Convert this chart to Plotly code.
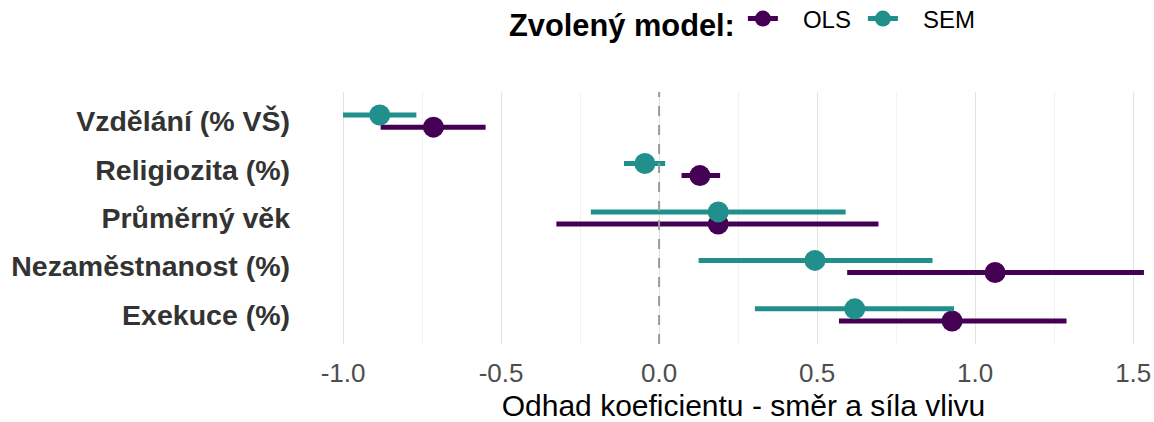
import plotly.graph_objects as go

# Data
categories = ["Exekuce (%)", "Nezaměstnanost (%)", "Průměrný věk", "Religiozita (%)", "Vzdělání (% VŠ)"]
ols_est = [0.927, 1.063, 0.187, 0.129, -0.714]
ols_lo = [0.569, 0.595, -0.325, 0.071, -0.881]
ols_hi = [1.289, 1.534, 0.694, 0.193, -0.549]
sem_est = [0.619, 0.493, 0.187, -0.045, -0.884]
sem_lo = [0.303, 0.125, -0.216, -0.111, -1.000]
sem_hi = [0.933, 0.865, 0.590, 0.019, -0.768]
x_tick_vals = [-1.0, -0.5, 0.0, 0.5, 1.0, 1.5]
x_tick_labels = ["-1.0", "-0.5", "0.0", "0.5", "1.0", "1.5"]
series_names = ["OLS", "SEM"]

OLS_COLOR = "#440154"
SEM_COLOR = "#21908C"
FONT = "Liberation Sans, Arial, sans-serif"
dodge = 0.125

# ggplot-like 5% expansion of the data range
x_min = min(ols_lo + sem_lo)
x_max = max(ols_hi + sem_hi)
pad = 0.05 * (x_max - x_min)
x_range = [x_min - pad, x_max + pad]

fig = go.Figure()

series = [
    (series_names[0], ols_est, ols_lo, ols_hi, OLS_COLOR, -dodge),
    (series_names[1], sem_est, sem_lo, sem_hi, SEM_COLOR, dodge),
]
for name, est, lo, hi, col, off in series:
    ys = [i + 1 + off for i in range(len(categories))]
    fig.add_trace(go.Scatter(
        x=est, y=ys, mode="markers", name=name, showlegend=False,
        marker=dict(color=col, size=21),
        error_x=dict(type="data", symmetric=False,
                     array=[h - e for h, e in zip(hi, est)],
                     arrayminus=[e - l for e, l in zip(est, lo)],
                     color=col, thickness=5, width=0),
    ))

for name, _, _, _, col, _ in series:
    fig.add_trace(go.Scatter(
        x=[None], y=[None], mode="lines+markers", name="\u00a0\u00a0\u00a0" + name,
        marker=dict(color=col, size=20), line=dict(color=col, width=5),
    ))

fig.add_vline(x=0, line=dict(color="#9a9a9a", width=2, dash="10px,9px"))

W = 1190
fig.update_layout(
    width=W, height=422,
    margin=dict(l=303, r=6, t=92, b=78),
    plot_bgcolor="white", paper_bgcolor="white",
    font=dict(family=FONT),
    legend=dict(
        orientation="h", xref="container", yref="container",
        x=507 / W, xanchor="left", y=0.948, yanchor="middle",
        title=dict(text="<b>Zvolený model:</b>", font=dict(size=30.8, color="black")),
        font=dict(size=24, color="black"),
        itemwidth=30, entrywidth=75,
    ),
    xaxis=dict(
        range=x_range,
        tickvals=x_tick_vals, ticktext=x_tick_labels,
        tickfont=dict(size=26, color="#4d4d4d"),
        showgrid=True, gridcolor="#e3e3e3", gridwidth=1.2,
        minor=dict(dtick=0.25, showgrid=True, gridcolor="#f2f2f2", gridwidth=1),
        zeroline=False, showline=False, ticks="",
        ticklabelstandoff=11, automargin=False,
        title=dict(text="Odhad koeficientu - směr a síla vlivu",
                   font=dict(size=30, color="black"), standoff=10),
    ),
    yaxis=dict(
        range=[0.4, 5.6],
        tickvals=[i + 1 for i in range(len(categories))],
        ticktext=["<b>%s</b>" % c for c in categories],
        tickfont=dict(size=28.5, color="#333333"),
        showgrid=False, zeroline=False, showline=False, ticks="",
        ticklabelstandoff=12, automargin=False,
    ),
)

fig.write_html(
    "out.html",
    config={"displayModeBar": False},
    post_script="document.body.style.margin='0';document.body.style.overflow='hidden';",
)
